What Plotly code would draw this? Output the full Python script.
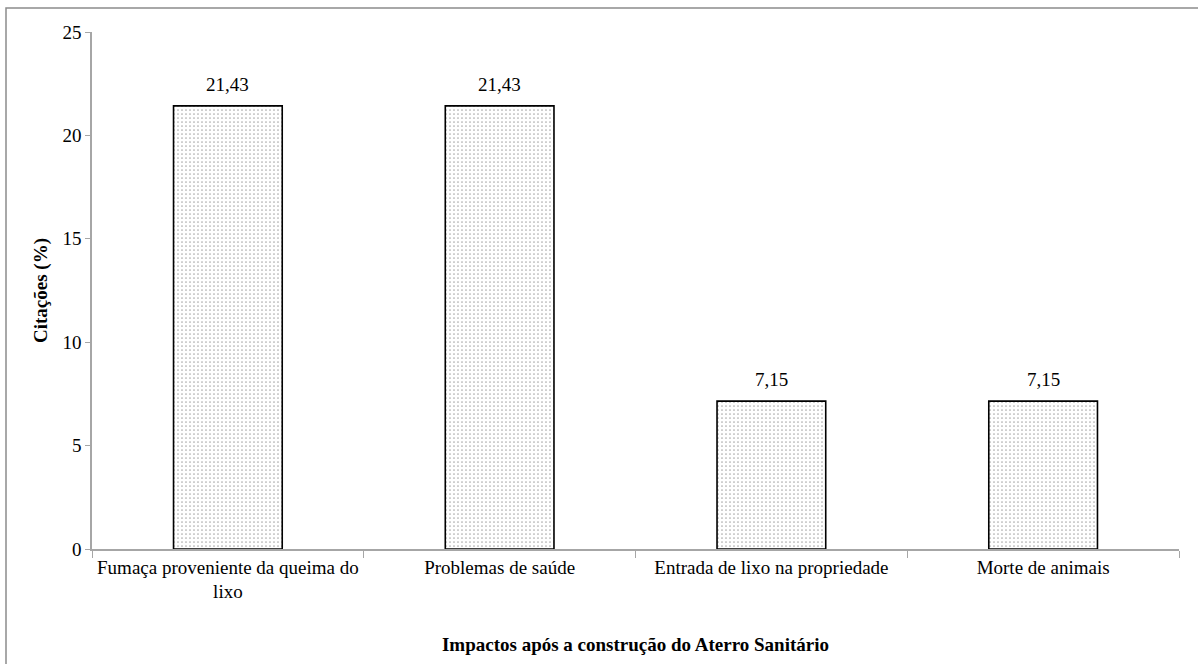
import plotly.graph_objects as go

categories = [
    "Fumaça proveniente da queima do<br>lixo",
    "Problemas de saúde",
    "Entrada de lixo na propriedade",
    "Morte de animais",
]
values = [21.43, 21.43, 7.15, 7.15]
value_labels = ["21,43", "21,43", "7,15", "7,15"]
y_ticks = [0, 5, 10, 15, 20, 25]

FONT = "Liberation Serif"
AXIS_GRAY = "#a6a6a6"

fig = go.Figure(
    go.Bar(
        x=categories,
        y=values,
        width=0.4,
        marker=dict(
            color="white",
            line=dict(color="black", width=1.6),
            pattern=dict(shape=".", size=4, solidity=0.15,
                         fgcolor="#555555", bgcolor="white", fillmode="overlay"),
        ),
    )
)

# value labels placed just above each bar top
annotations = [
    dict(x=c, y=v, text=t, xref="x", yref="y", showarrow=False,
         yanchor="bottom", yshift=9,
         font=dict(family=FONT, size=19, color="black"))
    for c, v, t in zip(categories, values, value_labels)
]

fig.update_layout(
    width=1198,
    height=664,
    margin=dict(l=92, r=19, t=32, b=115),
    paper_bgcolor="white",
    plot_bgcolor="white",
    showlegend=False,
    font=dict(family=FONT, size=19, color="black"),
    annotations=annotations,
    shapes=[
        dict(type="rect", xref="paper", yref="paper",
             x0=(6 - 92) / 1087, x1=(1205 - 92) / 1087,
             y0=(549 - 675) / 517, y1=(549 - 8) / 517,
             line=dict(color="#8c8c8c", width=1.5), fillcolor="rgba(0,0,0,0)",
             layer="below"),
    ],
)

fig.update_xaxes(
    showline=True, linecolor=AXIS_GRAY, linewidth=1.5,
    ticks="outside", tickson="boundaries", ticklen=7, tickcolor=AXIS_GRAY,
    tickfont=dict(family=FONT, size=19, color="black"),
    title=dict(text="<b>Impactos após a construção do Aterro Sanitário</b>",
               font=dict(family=FONT, size=19, color="black"), standoff=36),
    showgrid=False,
)

fig.update_yaxes(
    range=[0, 25], tickvals=y_ticks,
    showline=True, linecolor=AXIS_GRAY, linewidth=1.5,
    ticks="outside", ticklen=5, tickcolor=AXIS_GRAY,
    tickfont=dict(family=FONT, size=19, color="black"),
    title=dict(text="<b>Citações (%)</b>",
               font=dict(family=FONT, size=19, color="black"), standoff=10),
    showgrid=False, zeroline=False,
)

fig.write_html("out.html")
